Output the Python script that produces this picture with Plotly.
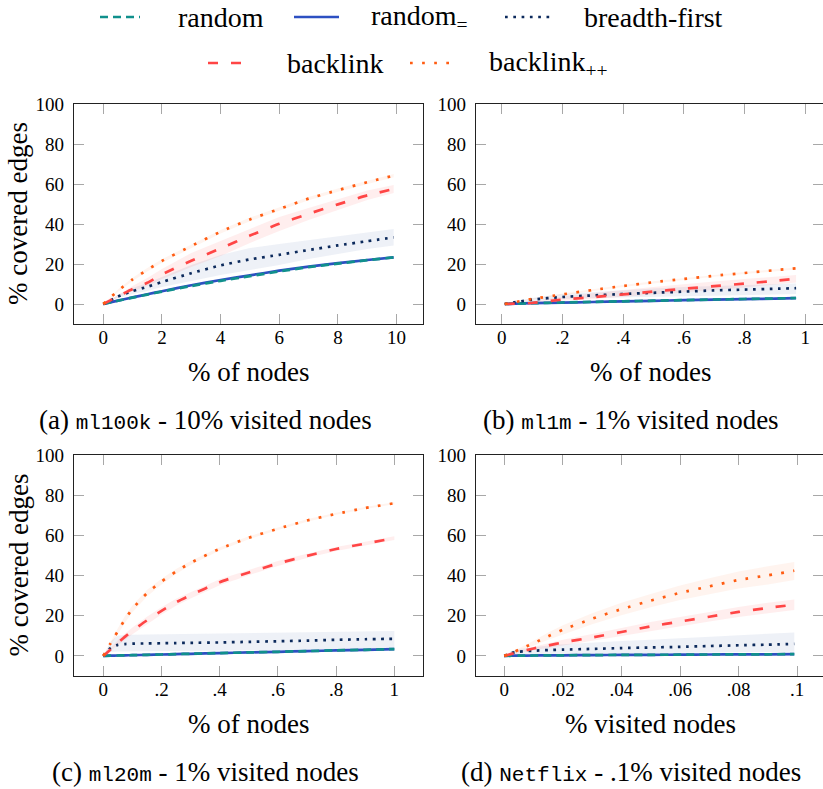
import plotly.graph_objects as go

# ---------------- data ----------------
series_names = ["random", "random<sub>=</sub>", "breadth-first", "backlink", "backlink<sub>++</sub>"]

# panel (a) ml100k
a_x = [0, 0.5, 1, 1.5, 2, 3, 4, 5, 6, 7, 8, 9, 9.9]
a_random = [0, 1.6, 3.2, 4.7, 6.2, 9.0, 11.6, 13.9, 16.3, 18.4, 20.2, 21.9, 23.3]
a_random_eq = [0, 1.7, 3.3, 4.85, 6.4, 9.4, 12.0, 14.3, 16.7, 18.7, 20.4, 22.0, 23.3]
a_bfs = [0, 3.7, 6.5, 8.6, 11.0, 15.4, 19.3, 22.3, 24.6, 27.0, 29.3, 31.4, 33.3]
a_bfs_lo = [0, 3.0, 5.0, 6.5, 8.5, 11.5, 14.5, 17.0, 19.5, 22.5, 25.0, 27.5, 29.2]
a_bfs_hi = [0, 4.5, 8.0, 10.5, 13.5, 19.5, 24.5, 28.0, 30.0, 32.0, 33.8, 35.8, 37.5]
a_bl = [0, 3.8, 7.5, 10.6, 14.8, 21.6, 27.8, 34.2, 40.1, 45.1, 49.8, 54.3, 57.5]
a_bl_lo = [0, 3.3, 6.5, 9.0, 12.5, 18.5, 24.0, 30.5, 36.5, 42.0, 47.0, 52.0, 55.5]
a_bl_hi = [0, 4.5, 9.0, 13.0, 17.5, 25.5, 31.5, 37.5, 43.5, 48.0, 52.5, 56.8, 59.5]
a_blpp = [0, 6.6, 12.3, 17.1, 21.5, 29.0, 36.1, 42.3, 47.5, 52.7, 56.9, 60.9, 64.2]
a_blpp_lo = [0, 6.0, 11.5, 16.2, 20.6, 28.1, 35.2, 41.4, 46.7, 51.9, 56.1, 60.1, 63.4]
a_blpp_hi = [0, 7.2, 13.1, 18.0, 22.4, 29.9, 37.0, 43.2, 48.3, 53.5, 57.7, 61.7, 65.0]

# panel (b) ml1m
b_x = [0.01, 0.1, 0.2, 0.3, 0.4, 0.5, 0.6, 0.7, 0.8, 0.9, 0.97]
b_random = [0, 0.4, 0.75, 1.05, 1.35, 1.65, 1.95, 2.25, 2.5, 2.75, 3.0]
b_random_eq = [0, 0.4, 0.7, 1.0, 1.3, 1.6, 1.9, 2.2, 2.4, 2.7, 2.9]
b_bfs = [0, 2.2, 3.5, 4.3, 5.0, 5.6, 6.2, 6.8, 7.2, 7.6, 7.9]
b_bfs_lo = [0, 1.5, 2.5, 3.0, 3.5, 3.8, 4.1, 4.4, 4.6, 4.8, 5.0]
b_bfs_hi = [0, 3.0, 5.0, 6.0, 7.0, 7.8, 8.5, 9.0, 9.5, 10.0, 10.3]
b_bl = [0, 0.5, 2.2, 3.4, 4.8, 6.2, 7.6, 8.9, 10.2, 11.6, 12.6]
b_bl_lo = [0, 0.3, 1.6, 2.5, 3.5, 4.6, 5.8, 7.0, 8.3, 9.7, 10.8]
b_bl_hi = [0, 1.5, 3.8, 5.5, 7.0, 8.5, 10.0, 11.3, 12.5, 13.6, 14.5]
b_blpp = [0, 2.5, 4.8, 7.0, 9.0, 10.9, 12.5, 14.1, 15.5, 16.9, 17.8]
b_blpp_lo = [0, 2.2, 4.4, 6.5, 8.5, 10.4, 12.0, 13.6, 15.0, 16.4, 17.3]
b_blpp_hi = [0, 2.8, 5.2, 7.5, 9.5, 11.4, 13.0, 14.6, 16.0, 17.4, 18.3]

# panel (c) ml20m
c_x = [0, 0.025, 0.05, 0.075, 0.1, 0.15, 0.2, 0.25, 0.3, 0.4, 0.5, 0.6, 0.7, 0.8, 0.9, 1.0]
c_random = [0, 0.1, 0.2, 0.3, 0.35, 0.55, 0.7, 0.9, 1.05, 1.4, 1.75, 2.05, 2.4, 2.75, 3.05, 3.4]
c_random_eq = [0, 0.1, 0.2, 0.3, 0.35, 0.55, 0.7, 0.9, 1.05, 1.4, 1.75, 2.05, 2.4, 2.75, 3.05, 3.4]
c_bfs = [0, 3.9, 5.5, 5.9, 6.1, 6.2, 6.3, 6.4, 6.5, 6.7, 7.0, 7.3, 7.6, 8.0, 8.3, 8.5]
c_bfs_lo = [0, 2.0, 2.2, 2.3, 2.3, 2.4, 2.5, 2.5, 2.6, 2.7, 2.8, 3.0, 3.1, 3.2, 3.4, 3.5]
c_bfs_hi = [0, 7.0, 10.2, 10.4, 10.5, 10.6, 10.7, 10.8, 10.9, 11.1, 11.4, 11.6, 11.8, 12.0, 12.2, 12.4]
c_bl = [0, 3.2, 6.5, 9.6, 12.5, 17.7, 22.4, 26.7, 30.2, 36.7, 41.5, 46.0, 49.8, 53.2, 55.9, 58.6]
c_bl_lo = [0, 2.4, 5.2, 8.0, 10.8, 15.9, 20.6, 25.0, 28.6, 35.2, 40.2, 44.8, 48.7, 52.2, 55.0, 57.7]
c_bl_hi = [0, 4.0, 7.8, 11.2, 14.2, 19.5, 24.2, 28.4, 31.8, 38.2, 42.8, 47.2, 50.9, 54.2, 56.8, 59.5]
c_blpp = [0, 6.3, 12.3, 18.3, 23.4, 31.2, 37.0, 42.0, 46.3, 53.3, 58.8, 63.3, 67.4, 70.7, 73.6, 76.0]
c_blpp_lo = [0, 5.3, 10.8, 16.6, 21.7, 29.6, 35.6, 40.8, 45.3, 52.5, 58.1, 62.7, 66.8, 70.2, 73.1, 75.5]
c_blpp_hi = [0, 7.3, 13.8, 20.0, 25.1, 32.8, 38.4, 43.2, 47.3, 54.1, 59.5, 63.9, 68.0, 71.2, 74.1, 76.5]

# panel (d) Netflix
d_x = [0, 0.0025, 0.005, 0.01, 0.015, 0.02, 0.03, 0.04, 0.05, 0.06, 0.07, 0.08, 0.09, 0.099]
d_random = [0, 0.1, 0.15, 0.2, 0.25, 0.3, 0.4, 0.5, 0.55, 0.6, 0.7, 0.75, 0.8, 0.9]
d_random_eq = [0, 0.1, 0.15, 0.2, 0.25, 0.3, 0.4, 0.5, 0.55, 0.6, 0.7, 0.75, 0.8, 0.9]
d_bfs = [0, 1.5, 2.1, 2.6, 2.9, 3.1, 3.5, 3.9, 4.2, 4.5, 4.9, 5.3, 5.6, 6.0]
d_bfs_lo = [0, 0.3, 0.5, 0.8, 1.0, 1.1, 1.3, 1.5, 1.6, 1.7, 1.8, 1.9, 2.0, 2.1]
d_bfs_hi = [0, 2.5, 3.5, 4.5, 5.2, 5.8, 6.7, 7.4, 8.1, 8.9, 9.7, 10.4, 11.0, 11.6]
d_bl = [0, 1.0, 2.0, 3.7, 5.2, 6.7, 9.2, 11.9, 14.7, 17.1, 19.5, 21.9, 23.9, 25.5]
d_bl_lo = [0, 0.7, 1.5, 2.8, 4.0, 5.3, 7.5, 9.9, 12.5, 14.8, 17.1, 19.4, 21.3, 22.9]
d_bl_hi = [0, 1.3, 2.5, 4.6, 6.4, 8.1, 10.9, 13.9, 16.9, 19.4, 21.9, 24.4, 26.5, 28.1]
d_blpp = [0, 1.4, 3.1, 6.3, 9.8, 13.0, 18.5, 23.3, 27.5, 31.4, 34.6, 37.8, 40.1, 42.4]
d_blpp_lo = [0, 1.0, 2.4, 5.0, 8.0, 10.8, 15.8, 20.2, 24.2, 27.8, 30.6, 33.6, 35.6, 37.8]
d_blpp_hi = [0, 1.8, 3.8, 7.6, 11.6, 15.2, 21.2, 26.4, 30.8, 35.0, 38.6, 42.0, 44.6, 46.8]

# tick labels
a_tickvals = [0, 2, 4, 6, 8, 10]
a_ticktext = ["0", "2", "4", "6", "8", "10"]
bc_tickvals = [0, 0.2, 0.4, 0.6, 0.8, 1.0]
bc_ticktext = ["0", ".2", ".4", ".6", ".8", "1"]
d_tickvals = [0, 0.02, 0.04, 0.06, 0.08, 0.1]
d_ticktext = ["0", ".02", ".04", ".06", ".08", ".1"]
y_tickvals = [0, 20, 40, 60, 80, 100]

MONO = "font-family:Liberation Mono,Courier New,monospace;font-size:21px"
captions = [
    f"(a) <span style='{MONO}'>ml100k</span> - 10% visited nodes",
    f"(b) <span style='{MONO}'>ml1m</span> - 1% visited nodes",
    f"(c) <span style='{MONO}'>ml20m</span> - 1% visited nodes",
    f"(d) <span style='{MONO}'>Netflix</span> - .1% visited nodes",
]
x_titles = ["% of nodes", "% of nodes", "% of nodes", "% visited nodes"]
y_title = "% covered edges"

# ---------------- styles ----------------
W, H = 823, 789
SERIF = "Liberation Serif, Times New Roman, DejaVu Serif, serif"
C_TEAL = "#10908c"
C_BLUE = "#2d50c2"
C_NAVY = "#0c2a5c"
C_RED = "#ff4545"
C_ORANGE = "#ff5c12"
B_NAVY = "rgba(40,80,150,0.08)"
B_RED = "rgba(255,70,70,0.09)"
B_ORANGE = "rgba(255,110,50,0.08)"
LW = 2.7
D_TEAL = "8px,5px"
D_NAVY = "2.7px,5.6px"
D_RED = "10px,13px"
D_ORANGE = "2.7px,9.4px"

def px(x):
    return x / W

def py(y):
    return 1 - y / H

panels = [
    dict(x=a_x, rnd=a_random, rnde=a_random_eq, bfs=a_bfs, bfs_lo=a_bfs_lo, bfs_hi=a_bfs_hi,
         bl=a_bl, bl_lo=a_bl_lo, bl_hi=a_bl_hi, blpp=a_blpp, blpp_lo=a_blpp_lo, blpp_hi=a_blpp_hi,
         xd=[74, 423], yd=[104, 324], xr=[-0.999, 10.9], tv=a_tickvals, tt=a_ticktext),
    dict(x=b_x, rnd=b_random, rnde=b_random_eq, bfs=b_bfs, bfs_lo=b_bfs_lo, bfs_hi=b_bfs_hi,
         bl=b_bl, bl_lo=b_bl_lo, bl_hi=b_bl_hi, blpp=b_blpp, blpp_lo=b_blpp_lo, blpp_hi=b_blpp_hi,
         xd=[476, 823], yd=[104, 324], xr=[-0.0847, 1.0587], tv=bc_tickvals, tt=bc_ticktext),
    dict(x=c_x, rnd=c_random, rnde=c_random_eq, bfs=c_bfs, bfs_lo=c_bfs_lo, bfs_hi=c_bfs_hi,
         bl=c_bl, bl_lo=c_bl_lo, bl_hi=c_bl_hi, blpp=c_blpp, blpp_lo=c_blpp_lo, blpp_hi=c_blpp_hi,
         xd=[74, 423], yd=[455, 676], xr=[-0.1007, 1.0986], tv=bc_tickvals, tt=bc_ticktext),
    dict(x=d_x, rnd=d_random, rnde=d_random_eq, bfs=d_bfs, bfs_lo=d_bfs_lo, bfs_hi=d_bfs_hi,
         bl=d_bl, bl_lo=d_bl_lo, bl_hi=d_bl_hi, blpp=d_blpp, blpp_lo=d_blpp_lo, blpp_hi=d_blpp_hi,
         xd=[476, 823], yd=[455, 676], xr=[-0.00966, 0.1088], tv=d_tickvals, tt=d_ticktext),
]

fig = go.Figure()
layout = dict(
    width=W, height=H, margin=dict(l=0, r=0, t=0, b=0, pad=0),
    paper_bgcolor="white", plot_bgcolor="white", showlegend=False,
    font=dict(family=SERIF, size=19, color="black"),
)
annotations = []
shapes = []

for i, p in enumerate(panels):
    sfx = "" if i == 0 else str(i + 1)
    xa, ya = "x" + sfx, "y" + sfx
    xs = p["x"]
    rev = xs[::-1]
    for lo, hi, col in [(p["bfs_lo"], p["bfs_hi"], B_NAVY), (p["bl_lo"], p["bl_hi"], B_RED),
                        (p["blpp_lo"], p["blpp_hi"], B_ORANGE)]:
        fig.add_trace(go.Scatter(x=xs + rev, y=hi + lo[::-1], fill="toself", fillcolor=col,
                                 line=dict(width=0), mode="lines", hoverinfo="skip",
                                 xaxis=xa, yaxis=ya))
    lines = [
        (p["rnde"], series_names[1], C_BLUE, "solid"),
        (p["rnd"], series_names[0], C_TEAL, D_TEAL),
        (p["bfs"], series_names[2], C_NAVY, D_NAVY),
        (p["bl"], series_names[3], C_RED, D_RED),
        (p["blpp"], series_names[4], C_ORANGE, D_ORANGE),
    ]
    for ys, nm, col, dash in lines:
        fig.add_trace(go.Scatter(x=xs, y=ys, name=nm, mode="lines",
                                 line=dict(color=col, width=LW, dash=dash, shape="spline", smoothing=0.6),
                                 xaxis=xa, yaxis=ya))
    common = dict(showgrid=False, zeroline=False, showline=True, linecolor="#222222", linewidth=1.3,
                  mirror="ticks", ticks="inside", ticklen=10, tickwidth=1.3, tickcolor="#a8a8a8",
                  tickfont=dict(family=SERIF, size=19, color="black"), automargin=False)
    layout["xaxis" + sfx] = dict(domain=[px(p["xd"][0]), px(p["xd"][1])], range=p["xr"], anchor=ya,
                                 tickmode="array", tickvals=p["tv"], ticktext=p["tt"],
                                 ticklabelstandoff=-4, **common)
    layout["yaxis" + sfx] = dict(domain=[py(p["yd"][1]), py(p["yd"][0])], range=[-10, 100], anchor=xa,
                                 tickmode="array", tickvals=y_tickvals, ticklabelstandoff=5, **common)
    # x-axis title
    annotations.append(dict(text=x_titles[i], x=px(p["xd"][0] + 349 / 2),
                            y=py(p["yd"][1] + 48), xref="paper", yref="paper", showarrow=False,
                            xanchor="center", yanchor="middle", font=dict(family=SERIF, size=27)))
    # caption
    cap_x = 205 if i % 2 == 0 else 631
    annotations.append(dict(text=captions[i], x=px(cap_x), y=py(p["yd"][1] + 96), xref="paper",
                            yref="paper", showarrow=False, xanchor="center", yanchor="middle",
                            font=dict(family=SERIF, size=27)))
    if i % 2 == 0:
        annotations.append(dict(text=y_title, x=px(18), y=py((p["yd"][0] + p["yd"][1]) / 2),
                                xref="paper", yref="paper", showarrow=False, textangle=-90,
                                xanchor="center", yanchor="middle", font=dict(family=SERIF, size=27)))

# ---------------- legend (drawn manually, two centred rows) ----------------
legend_items = [
    (series_names[0], C_TEAL, D_TEAL, 100, 140, 176, 17),
    (series_names[1], C_BLUE, "solid", 294, 339, 369, 17),
    (series_names[2], C_NAVY, D_NAVY, 505, 550, 582, 17),
    (series_names[3], C_RED, D_RED, 208, 242, 285, 63),
    (series_names[4], C_ORANGE, D_ORANGE, 410, 455, 487, 63),
]
for nm, col, dash, x0, x1, tx, yy in legend_items:
    shapes.append(dict(type="line", xref="paper", yref="paper", x0=px(x0), x1=px(x1), y0=py(yy), y1=py(yy),
                       line=dict(color=col, width=LW, dash=dash)))
    annotations.append(dict(text=nm, x=px(tx), y=py(yy), xref="paper", yref="paper", showarrow=False,
                            xanchor="left", yanchor="middle", font=dict(family=SERIF, size=28)))

layout["annotations"] = annotations
layout["shapes"] = shapes
fig.update_layout(**layout)
fig.write_html("out.html")
